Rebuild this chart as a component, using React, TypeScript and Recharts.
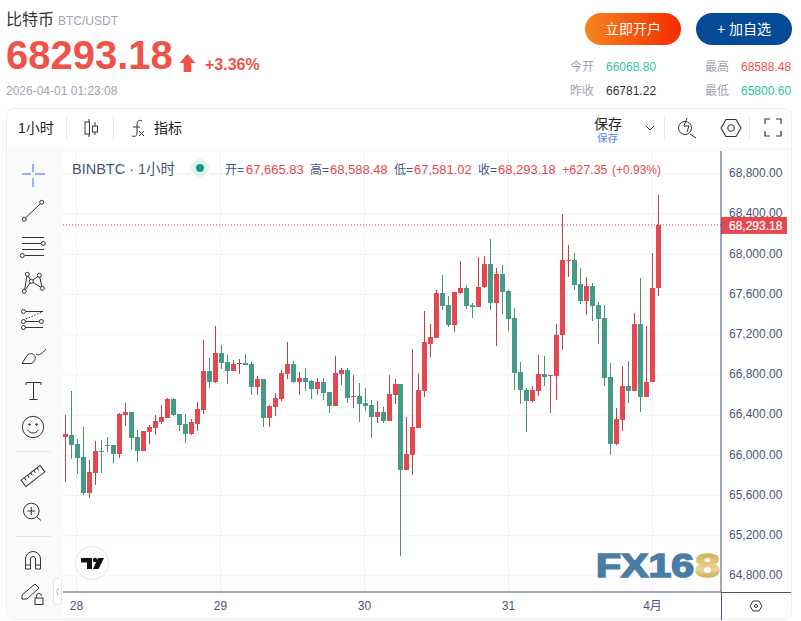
import { Bar, CartesianGrid, ComposedChart, ReferenceLine, XAxis, YAxis } from 'recharts';

const FONT = '"Liberation Sans", "Noto Sans CJK SC", sans-serif';

// hours from 28 Mar 00:00
const hours = [
  -2, -1, 0, 1, 2, 3, 4, 5, 6, 7, 8, 9, 10, 11, 12, 13, 14, 15, 16, 17, 18, 19, 20, 21, 22,
  23, 24, 25, 26, 27, 28, 29, 30, 31, 32, 33, 34, 35, 36, 37, 38, 39, 40, 41, 42, 43, 44, 45, 46, 47,
  48, 49, 50, 51, 52, 53, 54, 55, 56, 57, 58, 59, 60, 61, 62, 63, 64, 65, 66, 67, 68, 69, 70, 71, 72,
  73, 74, 75, 76, 77, 78, 79, 80, 81, 82, 83, 84, 85, 86, 87, 88, 89, 90, 91, 92, 93, 94, 95, 96, 97,
];
const opens = [
  66182, 66202, 66112, 65983, 65624, 65823, 66042, 66102, 66102, 66013, 66401, 66431, 66182, 66042, 66232, 66271, 66331, 66371, 66560, 66411,
  66311, 66212, 66311, 66451, 66839, 66729, 67018, 66928, 66839, 66908, 66918, 66908, 66680, 66759, 66371, 66480, 66560, 66809, 66908, 66729,
  66769, 66739, 66660, 66729, 66630, 66490, 66809, 66849, 66580, 66590, 66520, 66500, 66381, 66431, 66341, 66600, 66709, 65853, 66003, 66271,
  66640, 67108, 67167, 67615, 67496, 67297, 67615, 67665, 67496, 67476, 67675, 67904, 67516, 67804, 67635, 67366, 66829, 66650, 66540, 66640,
  66809, 66789, 66789, 67197, 67934, 67944, 67705, 67536, 67685, 67496, 67366, 66779, 66112, 66351, 66689, 66640, 67307, 66580, 66729, 67665.83,
];
const highs = [
  66401, 66640, 66162, 66281, 65953, 66142, 66152, 66182, 66102, 66421, 66520, 66431, 66251, 66242, 66301, 66401, 66500, 66570, 66570, 66411,
  66411, 66361, 66530, 67147, 66968, 67287, 67098, 66998, 66948, 66958, 67008, 66928, 66789, 66759, 66500, 66620, 66849, 67127, 66938, 66829,
  66869, 66749, 66769, 66769, 66630, 66988, 66869, 66869, 66799, 66719, 66670, 66550, 66540, 66480, 66799, 66759, 66709, 66381, 67058, 66819,
  67436, 67307, 67645, 67794, 67585, 67625, 67934, 67695, 67516, 67974, 67983, 68153, 67864, 67894, 67645, 67466, 66928, 66670, 66689, 66998,
  66988, 66799, 67307, 68402, 68093, 68013, 67864, 67774, 67715, 67526, 67496, 66918, 66470, 66889, 66938, 67416, 67765, 67287, 68013, 68588.48,
];
const lows = [
  65734, 65963, 65814, 65604, 65575, 65704, 65823, 66032, 65923, 65973, 66291, 66052, 65933, 66042, 66112, 66202, 66311, 66371, 66391, 66242,
  66122, 66202, 66242, 66411, 66670, 66719, 66859, 66709, 66839, 66809, 66899, 66600, 66600, 66281, 66281, 66391, 66540, 66759, 66719, 66600,
  66640, 66560, 66600, 66550, 66421, 66490, 66699, 66520, 66470, 66331, 66441, 66172, 66321, 66321, 66341, 66510, 64997, 65853, 65804, 66271,
  66580, 66978, 67167, 67446, 67277, 67227, 67605, 67456, 67366, 67476, 67665, 67446, 67088, 67406, 67237, 66650, 66510, 66232, 66530, 66590,
  66689, 66421, 66550, 67048, 67774, 67645, 67506, 67396, 67336, 67108, 66689, 66003, 66102, 66242, 66520, 66640, 66431, 66580, 66729, 67581.02,
];
const closes = [
  66212, 66102, 65973, 65624, 65833, 66042, 66032, 66092, 66013, 66411, 66431, 66172, 66042, 66242, 66281, 66341, 66381, 66560, 66401, 66301,
  66212, 66331, 66461, 66839, 66729, 67018, 66918, 66839, 66908, 66918, 66899, 66680, 66759, 66371, 66490, 66570, 66819, 66908, 66729, 66769,
  66729, 66660, 66729, 66620, 66490, 66819, 66849, 66570, 66590, 66510, 66490, 66381, 66431, 66341, 66610, 66709, 65853, 66013, 66281, 66650,
  67127, 67177, 67615, 67486, 67297, 67625, 67665, 67486, 67476, 67675, 67904, 67516, 67804, 67625, 67356, 66819, 66650, 66540, 66650, 66809,
  66779, 66799, 67197, 67944, 67944, 67695, 67536, 67685, 67486, 67356, 66769, 66112, 66361, 66689, 66640, 67307, 66580, 66729, 67665, 68293.18,
];

const priceTicks = [64800, 65200, 65600, 66000, 66400, 66800, 67200, 67600, 68000, 68400, 68800];
const dayTicks = [0, 24, 48, 72, 96];
const dayLabels = ['28', '29', '30', '31', '4月'];
const lastPrice = 68293.18;

const data = hours.map((hour, i) => ({
  hour,
  open: opens[i],
  high: highs[i],
  low: lows[i],
  close: closes[i],
}));

function Candle(props: any) {
  const { x, y, height, payload } = props;
  const up = payload.close >= payload.open;
  const k = height / (payload.high - payload.low);
  const top = Math.round(y + (payload.high - Math.max(payload.open, payload.close)) * k);
  const bottom = Math.round(y + (payload.high - Math.min(payload.open, payload.close)) * k);
  // bars land a pixel left of the day gridlines, nudge them back
  const left = Math.round(x) + 1;
  return (
    <g shapeRendering="crispEdges">
      <rect x={left + 2} y={y} width={1} height={height} fill={up ? '#b8434f' : '#4f9465'} />
      <rect x={left} y={top} width={5} height={Math.max(1, bottom - top)} fill={up ? '#e5484f' : '#459b87'} />
    </g>
  );
}

function PriceTag(props: any) {
  const { viewBox } = props;
  const left = viewBox.x + viewBox.width;
  return (
    <g>
      <rect x={left} y={viewBox.y - 8} width={66} height={17} fill="#e5484f" />
      <text x={left + 8} y={viewBox.y + 5} fontSize={12} fontFamily={FONT} fill="#fff" stroke="#fff" strokeWidth={0.2}>
        68,293.18
      </text>
    </g>
  );
}

function T({ x, y, size = 12, color = '#333', anchor = 'start', weight = 400, children }: any) {
  return (
    <text x={x} y={y} fontSize={size} fill={color} textAnchor={anchor} fontWeight={weight} fontFamily={FONT}>
      {children}
    </text>
  );
}

function Backdrop() {
  return (
    <svg width={801} height={621} style={{ position: 'absolute', left: 0, top: 0 }}>
      <defs>
        <linearGradient id="openBtn" x1="0" y1="0" x2="1" y2="0">
          <stop offset="0%" stopColor="#f5851f" />
          <stop offset="100%" stopColor="#f52b00" />
        </linearGradient>
      </defs>
      <rect width={801} height={621} fill="#fff" />
      <T x={6} y={25} size={16} color="#333">比特币</T>
      <T x={58} y={25} size={12} color="#a0a4b0">BTC/USDT</T>
      <T x={6} y={69} size={40} color="#ef5246" weight={700}>68293.18</T>
      <path d="M187.5 54 l8 9 h-4.2 v9 h-7.6 v-9 h-4.2 z" fill="#ef5246" />
      <T x={205} y={70} size={16} color="#ef5246" weight={700}>+3.36%</T>
      <T x={6} y={95} size={12} color="#a0a4b0">2026-04-01 01:23:08</T>

      <rect x={585} y={13} width={96} height={32} rx={16} fill="url(#openBtn)" />
      <T x={633} y={34} size={14} color="#fff" anchor="middle">立即开户</T>
      <rect x={696} y={13} width={96} height={32} rx={16} fill="#044a96" />
      <T x={744} y={34} size={14} color="#fff" anchor="middle">+ 加自选</T>

      <T x={570} y={71} color="#a0a4b0">今开</T>
      <T x={606} y={71} color="#2ec4a0">66068.80</T>
      <T x={705} y={71} color="#a0a4b0">最高</T>
      <T x={741} y={71} color="#f05050">68588.48</T>
      <T x={570} y={95} color="#a0a4b0">昨收</T>
      <T x={606} y={95} color="#333">66781.22</T>
      <T x={705} y={95} color="#a0a4b0">最低</T>
      <T x={741} y={95} color="#2ec4a0">65800.60</T>

      <rect x={6.5} y={108.5} width={785} height={511} rx={7} fill="#fff" stroke="#eceef2" />
    </svg>
  );
}

function Overlay() {
  const ic = { fill: 'none', stroke: '#333', strokeWidth: 1 };
  return (
    <svg width={801} height={621} style={{ position: 'absolute', left: 0, top: 0 }}>
      {/* top toolbar */}
      <rect x={7} y={147} width={784} height={4} fill="#f8f9fb" />
      <T x={18} y={133} size={14} color="#222">1小时</T>
      <path d="M66.5 117 v22 M113.5 117 v22 M664.5 117 v22 M749.5 117 v22" stroke="#e3e5ea" />
      <g {...ic}>
        <path d="M89 119 v3 M89 134 v3 M95 122 v4 M95 132 v3" />
        <rect x={85} y={122} width={4.5} height={12} />
        <rect x={92.5} y={126} width={5} height={6} />
        <path d="M142 121 c-4 -2 -5 1 -5 5 v7 c0 3 -2 4 -5 3 M133 127 h7 M139 131 l5 5 M144 131 l-5 5" />
      </g>
      <T x={154} y={133} size={14} color="#222">指标</T>
      <T x={594} y={129} size={14} color="#222">保存</T>
      <T x={597} y={142} size={10.5} color="#5f7ff0">保存</T>
      <g {...ic}>
        <path d="M646 126 l4 4 l4 -4" />
        <circle cx={685} cy={128} r={6.5} />
        <path d="M690 134 l6 4 M687 118 l-3 8 h5 l-2 6" />
        <path d="M721 128 l5 -8.5 h10 l5 8.5 l-5 8.5 h-10 z" strokeWidth={1.1} />
        <circle cx={731} cy={128} r={3.3} />
        <path d="M765 124 v-5 h5 M776 119 h5 v5 M781 131 v5 h-5 M770 136 h-5 v-5" strokeWidth={1.2} />
      </g>

      {/* legend row */}
      <T x={72} y={174} size={14.5} color="#4a5578">BINBTC · 1小时</T>
      <circle cx={200} cy={168} r={9} fill="#dff3ef" />
      <circle cx={200} cy={168} r={4} fill="#0d9d82" />
      <T x={225} y={174} color="#4a5578">开=</T>
      <T x={246} y={174} size={13} color="#e5484f">67,665.83</T>
      <T x={310} y={174} color="#4a5578">高=</T>
      <T x={330} y={174} size={13} color="#e5484f">68,588.48</T>
      <T x={394} y={174} color="#4a5578">低=</T>
      <T x={414} y={174} size={13} color="#e5484f">67,581.02</T>
      <T x={478} y={174} color="#4a5578">收=</T>
      <T x={498} y={174} size={13} color="#e5484f">68,293.18</T>
      <T x={562} y={174} size={12.5} color="#e5484f">+627.35</T>
      <T x={612} y={174} size={12} color="#e5484f">(+0.93%)</T>

      {/* left toolbar */}
      <rect x={7} y={151} width={56} height={468} fill="#fafafa" />
      <path d="M22 174 h9 M35 174 h10 M33 164 v8 M33 178 v9" stroke="#3a66e0" />
      <g {...ic}>
        <path d="M25.5 218 L40.5 203.5" />
        <circle cx={24.3} cy={219.3} r={2} />
        <circle cx={41.7} cy={202.3} r={2} />
        <path d="M22 237.5 h22 M22 243.5 h19 M22 249.5 h22 M25 255.5 h19" />
        <circle cx={43.3} cy={243.5} r={2} />
        <circle cx={22.3} cy={255.5} r={2} />
        <path d="M24.3 291.3 L27.3 274.3 L31.3 281.3 L39.3 275.3 L42.3 288.3 L31.3 281.3 L24.3 291.3" />
        <circle cx={24.3} cy={291.3} r={2} fill="#fafafa" />
        <circle cx={27.3} cy={274.3} r={2} fill="#fafafa" />
        <circle cx={31.3} cy={281.3} r={2} fill="#fafafa" />
        <circle cx={39.3} cy={275.3} r={2} fill="#fafafa" />
        <circle cx={42.3} cy={288.3} r={2} fill="#fafafa" />
        <path d="M26 311.5 h17 M26 321.5 h13 M26 327.5 h17" />
        <path d="M26 319 L42 312" strokeDasharray="1.5 1.5" />
        <circle cx={23.5} cy={311.5} r={2} />
        <circle cx={23.5} cy={321.5} r={2} />
        <circle cx={41.3} cy={321.5} r={2} />
        <circle cx={23.5} cy={327.5} r={2} />
        <path d="M22 363.5 h9 c3 -1 5 -4 4 -7 c-1 -3 -5 -4 -8 -1 z M36 354 c3 2 6 0 10 -5" />
        <path d="M26 385 v-2.5 h15 v2.5 M33.5 382.5 v17 M29.5 399.5 h8" />
        <circle cx={33} cy={427} r={10.7} />
        <path d="M27.5 430 c3 4 8 4 11 0" />
        <circle cx={29.5} cy={424.5} r={0.8} fill="#333" />
        <circle cx={36.5} cy={424.5} r={0.8} fill="#333" />
        <g transform="rotate(-38 33 476)">
          <rect x={21} y={472} width={24} height={8} />
          <path d="M25 472 v3 M29 472 v3 M33 472 v3 M37 472 v3 M41 472 v3" />
        </g>
        <circle cx={31.3} cy={511} r={7.8} />
        <path d="M37 517 l4 3.5 M31.3 507 v8 M27.3 511 h8" />
        <path d="M25.5 569 v-10 a7.5 7.5 0 0 1 15 0 v10 h-5 v-10 a2.5 2.5 0 0 0 -5 0 v10 z M25.5 565 h5 M35.5 565 h5" />
        <path d="M22 595 l13 -11 l4 4 l-12 11 h-5 z" />
        <rect x={35} y={598} width={8} height={6.5} />
        <path d="M36.5 598 v-2 a2.5 2.5 0 0 1 5 0" />
      </g>
      <path d="M15 451.5 h36 M15 536.5 h36" stroke="#e3e5ef" />
      <rect x={53.5} y={578.5} width={8} height={26} rx={3} fill="#fff" stroke="#e3e5ea" />
      <path d="M58.5 588 l-2 3.5 l2 3.5" fill="none" stroke="#b0b4bc" />

      {/* axis extensions */}
      <path d="M721 592.5 h70 M721.5 592 v28" stroke="#4a5578" />
      <g {...ic}>
        <path d="M750 606 l3 -5 h6 l3 5 l-3 5 h-6 z" />
        <circle cx={756} cy={606} r={1.5} />
      </g>

      {/* tv badge */}
      <circle cx={92} cy={563} r={16.5} fill="#fff" stroke="#e3e5ef" />
      <path d="M81 558 h11 v11 h-5 v-6.5 h-6 z" fill="#111" />
      <circle cx={95} cy={560} r={2.2} fill="#111" />
      <path d="M98 558 h6 l-5.5 11 h-5.5 z" fill="#111" />

      {/* watermark */}
      <defs>
        <linearGradient id="goldMark" x1="0" y1="0" x2="0" y2="1">
          <stop offset="0%" stopColor="#c9a44f" />
          <stop offset="60%" stopColor="#ecd390" />
          <stop offset="100%" stopColor="#b78d3a" />
        </linearGradient>
      </defs>
      <text x={596} y={577} fontSize={33} fontWeight={700} fontFamily={FONT} fill="#4a7da3" stroke="#4a7da3" strokeWidth={1.6} textLength={98} lengthAdjust="spacingAndGlyphs">
        FX16
      </text>
      <text x={695} y={577} fontSize={33} fontWeight={700} fontFamily={FONT} fill="url(#goldMark)" stroke="url(#goldMark)" strokeWidth={1.6} textLength={25} lengthAdjust="spacingAndGlyphs">
        8
      </text>
    </svg>
  );
}

export default function App() {
  return (
    <div style={{ position: 'absolute', left: 0, top: 0, width: 801, height: 621, overflow: 'hidden' }}>
      <Backdrop />
      <div style={{ position: 'absolute', left: 0, top: 0 }}>
        <ComposedChart
          width={801}
          height={621}
          data={data}
          barSize={5}
          margin={{ top: 151, right: 10, bottom: 0, left: 62 }}
        >
          <CartesianGrid stroke="#f0f2f5" />
          <XAxis
            dataKey="hour"
            type="number"
            domain={[-2.4167, 107.4167]}
            ticks={dayTicks}
            height={29}
            stroke="#4a5578"
            tickLine={false}
            tickMargin={3}
            tick={{ fontSize: 12, fontFamily: FONT, fill: '#4a5578' }}
            tickFormatter={(v: number) => dayLabels[dayTicks.indexOf(v)]}
          />
          <YAxis
            orientation="right"
            width={70}
            type="number"
            domain={[64639, 69029]}
            ticks={priceTicks}
            stroke="#4a5578"
            tickLine={false}
            tickMargin={2}
            tick={{ fontSize: 12, fontFamily: FONT, fill: '#4a5578', dy: -1 }}
            tickFormatter={(v: number) => v.toLocaleString('en-US', { minimumFractionDigits: 2 })}
          />
          <ReferenceLine
            y={lastPrice}
            stroke="#c8404a"
            strokeDasharray="1 2"
            label={(p: any) => <PriceTag {...p} />}
          />
          <Bar dataKey={(d: any) => [d.low, d.high]} shape={Candle} isAnimationActive={false} />
        </ComposedChart>
      </div>
      <Overlay />
    </div>
  );
}
